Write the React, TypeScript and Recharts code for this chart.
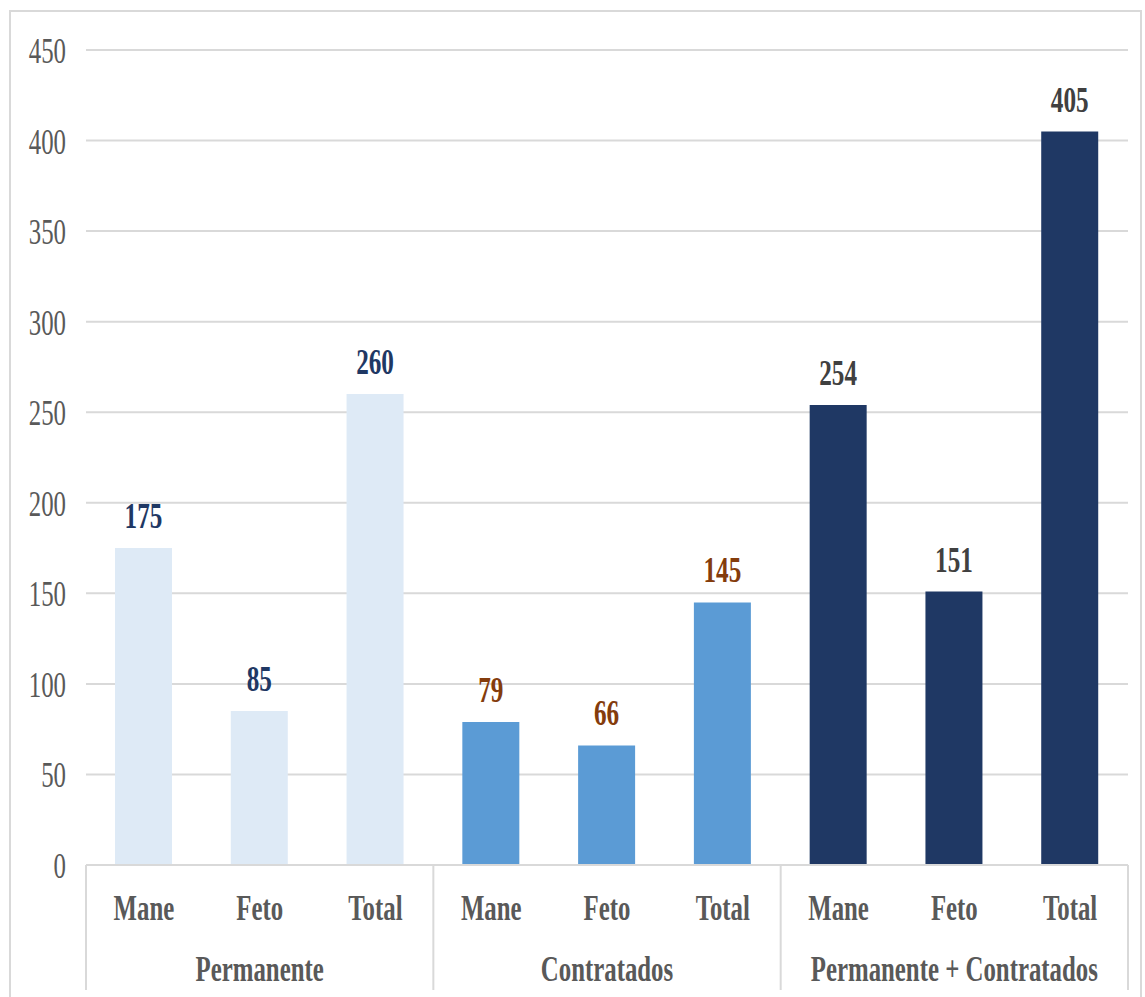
import { BarChart, Bar, XAxis, YAxis, CartesianGrid, Cell, LabelList } from "recharts";

const subcategories = ["Mane", "Feto", "Total"];
const groups = ["Permanente", "Contratados", "Permanente + Contratados"];
const permanente = [175, 85, 260];
const contratados = [79, 66, 145];
const permanenteContratados = [254, 151, 405];
const yTicks = [0, 50, 100, 150, 200, 250, 300, 350, 400, 450];

const barColors = ["#DEEAF6", "#5B9BD5", "#1F3864"];
const labelColors = ["#1F3864", "#843C0C", "#404040"];

const groupValues = [permanente, contratados, permanenteContratados];
const data = groupValues.flatMap((values, g) =>
  values.map((value, i) => ({
    key: `${groups[g]}-${subcategories[i]}`,
    sub: subcategories[i],
    group: g,
    value,
  }))
);

const WIDTH = 1145;
const HEIGHT = 997;
const MARGIN = { top: 50, right: 17, left: 0, bottom: 0 };
const Y_WIDTH = 86;
const X_HEIGHT = 132;
const BAND = (WIDTH - MARGIN.left - MARGIN.right - Y_WIDTH) / data.length;
const FONT = "'Liberation Serif', 'Times New Roman', serif";
const SX = 0.69;

function YTick(props: any) {
  const { x, y, payload } = props;
  return (
    <text
      transform={`translate(${x - 20},${y + 13}) scale(${SX},1)`}
      textAnchor="end"
      fontFamily={FONT}
      fontSize={36}
      fill="#595959"
    >
      {payload.value}
    </text>
  );
}

function XTick(props: any) {
  const { x, y, index } = props;
  const d = data[index];
  if (!d) return null;
  const pos = index % 3;
  return (
    <g>
      {pos === 0 && (
        <line x1={x - BAND / 2} x2={x - BAND / 2} y1={y} y2={990} stroke="#d9d9d9" strokeWidth={2} />
      )}
      {index === data.length - 1 && (
        <line x1={x + BAND / 2} x2={x + BAND / 2} y1={y} y2={990} stroke="#d9d9d9" strokeWidth={2} />
      )}
      <text
        transform={`translate(${x},${y + 55}) scale(${SX},1)`}
        textAnchor="middle"
        fontFamily={FONT}
        fontSize={36}
        fontWeight="bold"
        fill="#595959"
      >
        {d.sub}
      </text>
      {pos === 1 && (
        <text
          transform={`translate(${x},${y + 116}) scale(${SX},1)`}
          textAnchor="middle"
          fontFamily={FONT}
          fontSize={36}
          fontWeight="bold"
          fill="#595959"
        >
          {groups[d.group]}
        </text>
      )}
    </g>
  );
}

function ValueLabel(props: any) {
  const { x, y, width, value, index } = props;
  const d = data[index];
  return (
    <text
      transform={`translate(${x + width / 2},${y - 20}) scale(0.7,1)`}
      textAnchor="middle"
      fontFamily={FONT}
      fontSize={36}
      fontWeight="bold"
      fill={labelColors[d ? d.group : 0]}
    >
      {value}
    </text>
  );
}

export default function App() {
  return (
    <div style={{ position: "absolute", left: 0, top: 0, width: WIDTH, height: HEIGHT, overflow: "hidden", background: "#fff" }}>
      <div
        style={{
          position: "absolute",
          left: 9,
          top: 10,
          width: 1129,
          height: 1000,
          border: "2px solid #d9d9d9",
        }}
      />
      <div style={{ position: "absolute", left: 0, top: 0 }}>
        <BarChart width={WIDTH} height={HEIGHT} data={data} margin={MARGIN}>
          <CartesianGrid vertical={false} stroke="#d9d9d9" strokeWidth={2} />
          <XAxis
            dataKey="key"
            height={X_HEIGHT}
            interval={0}
            tickSize={0}
            tickMargin={0}
            tickLine={false}
            axisLine={{ stroke: "#d9d9d9", strokeWidth: 2 }}
            tick={<XTick />}
          />
          <YAxis
            width={Y_WIDTH}
            domain={[0, 450]}
            ticks={yTicks}
            interval={0}
            tickSize={0}
            tickMargin={0}
            tickLine={false}
            axisLine={false}
            tick={<YTick />}
          />
          <Bar dataKey="value" barSize={57} isAnimationActive={false}>
            {data.map((d) => (
              <Cell key={d.key} fill={barColors[d.group]} />
            ))}
            <LabelList dataKey="value" content={<ValueLabel />} />
          </Bar>
        </BarChart>
      </div>
    </div>
  );
}
